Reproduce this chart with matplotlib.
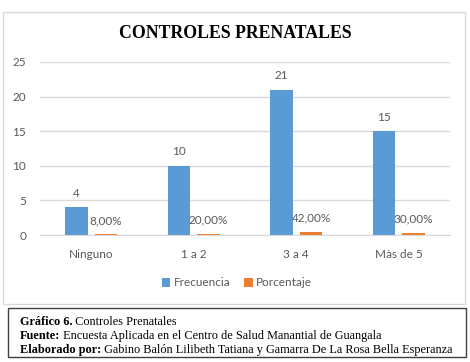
import matplotlib
matplotlib.use('agg')
import matplotlib.pyplot as plt
from matplotlib.patches import Rectangle
import numpy as np

categorias = ['Ninguno', '1 a 2', '3 a 4', 'Màs de 5']
frecuencia = [4, 10, 21, 15]
porcentaje = [0.08, 0.20, 0.42, 0.30]
etiquetas_pct = ['8,00%', '20,00%', '42,00%', '30,00%']
yticks = [0, 5, 10, 15, 20, 25]

AZUL = '#5B9BD5'
NARANJA = '#ED7D31'
GRIS = '#595959'
W, H = 470, 362

fig = plt.figure(figsize=(W / 100, H / 100), dpi=100)
fig.patch.set_facecolor('white')

# marco del grafico (coordenadas en pixeles desde arriba)
def px(x, y):
    return x / W, 1 - y / H

fig.patches.append(Rectangle(px(3, 304), 462 / W, 292 / H, transform=fig.transFigure,
                             fill=False, edgecolor='#D9D9D9', lw=1))
fig.patches.append(Rectangle(px(8, 357), 458 / W, 49 / H, transform=fig.transFigure,
                             fill=False, edgecolor='#404040', lw=1))

ax = fig.add_axes([40 / W, 127 / H, 410 / W, 173 / H])
x = np.arange(len(categorias))
ancho = 0.22
b1 = ax.bar(x - 0.145, frecuencia, ancho, color=AZUL, label='Frecuencia')
b2 = ax.bar(x + 0.145, porcentaje, ancho, color=NARANJA, label='Porcentaje')

ax.set_xlim(-0.5, 3.5)
ax.set_ylim(0, 25)
ax.set_yticks(yticks)
ax.set_xticks(x)
ax.set_xticklabels(categorias)
ax.grid(axis='y', color='#D9D9D9', lw=1)
ax.set_axisbelow(True)
for s in ['top', 'right', 'left']:
    ax.spines[s].set_visible(False)
ax.spines['bottom'].set_color('#D9D9D9')
ax.tick_params(length=0, colors=GRIS, labelsize=8.5)
ax.tick_params(axis='x', pad=10)
ax.tick_params(axis='y', pad=10)
for lab in ax.get_xticklabels() + ax.get_yticklabels():
    lab.set_family('Lato')

for xi, v in zip(x, frecuencia):
    ax.annotate(str(v), (xi - 0.145, v), xytext=(0, 10), textcoords='offset points',
                ha='center', va='center', fontsize=8.5, color=GRIS, family='Lato')
for xi, v, t in zip(x, porcentaje, etiquetas_pct):
    ax.annotate(t, (xi + 0.145, v), xytext=(0, 10), textcoords='offset points',
                ha='center', va='center', fontsize=8.5, color=GRIS, family='Lato')

fig.text(235 / W, 1 - 34 / H, 'CONTROLES PRENATALES', ha='center', va='center',
         fontsize=12.8, fontweight='bold', family='Liberation Serif', color='black')

leg = fig.legend(handles=[b1, b2], loc='center', bbox_to_anchor=(237 / W, 1 - 283 / H),
                 ncol=2, frameon=False, handlelength=0.7, handleheight=0.7,
                 handletextpad=0.3, columnspacing=1.2, prop={'family': 'Lato', 'size': 8.5})
for t in leg.get_texts():
    t.set_color(GRIS)

# pie del grafico
lineas = [('Gráfico 6.', ' Controles Prenatales'),
          ('Fuente:', ' Encuesta Aplicada en el Centro de Salud Manantial de Guangala'),
          ('Elaborado por:', ' Gabino Balón Lilibeth Tatiana y Gamarra De La Rosa Bella Esperanza')]
fig.canvas.draw()
r = fig.canvas.get_renderer()
for i, (neg, normal) in enumerate(lineas):
    yy = 1 - (322 + 14 * i) / H
    t = fig.text(20 / W, yy, neg, ha='left', va='center', fontsize=8.8,
                 fontweight='bold', family='Liberation Serif')
    bb = t.get_window_extent(renderer=r)
    fig.text(bb.x1 / W, yy, normal, ha='left', va='center', fontsize=8.8,
             family='Liberation Serif')

fig.savefig('out.png', dpi=100)
